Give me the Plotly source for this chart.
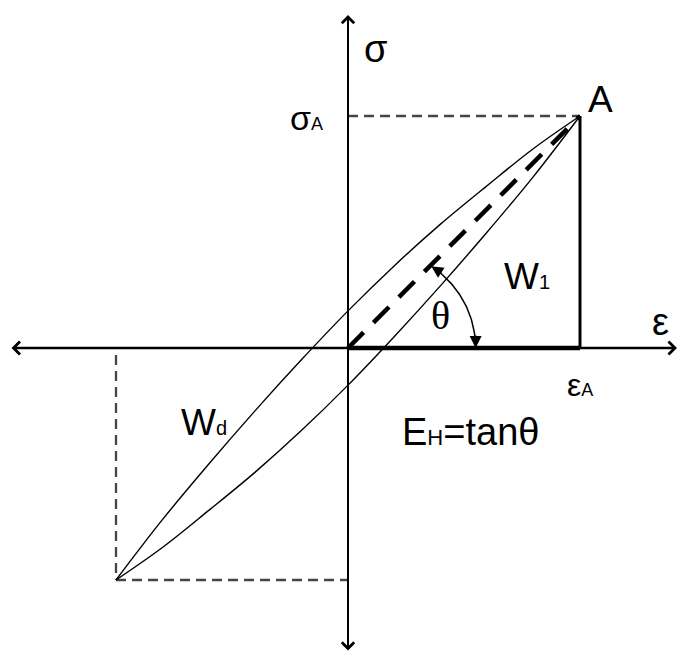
import numpy as np
import plotly.graph_objects as go

# normalised cycle amplitudes (strain and stress at the tip A)
eps_A = 1.0
sig_A = 1.0

# upper (loading) and lower (unloading) branches of the hysteresis loop
upper_eps = [-1.0, -0.8, -0.6, -0.4, -0.2, 0.0, 0.2, 0.4, 0.6, 0.8, 1.0]
upper_sig = [-1.0, -0.74, -0.50, -0.27, -0.05, 0.16, 0.355, 0.535, 0.70, 0.86, 1.0]
lower_eps = [-1.0, -0.8, -0.6, -0.4, -0.2, 0.0, 0.2, 0.4, 0.6, 0.8, 1.0]
lower_sig = [-1.0, -0.86, -0.70, -0.535, -0.355, -0.16, 0.05, 0.27, 0.50, 0.74, 1.0]

# visible extent of the strain / stress axes
x_min, x_max = -1.457, 1.418
y_min, y_max = -1.31, 1.435

FONT = "Liberation Sans, Arial, sans-serif"
SERIF = "Liberation Serif, Times New Roman, serif"
GREY = "#454545"

fig = go.Figure()


def seg(xs, ys, color="black", width=2, dash="solid", shape="linear"):
    fig.add_trace(go.Scatter(
        x=xs, y=ys, mode="lines", hoverinfo="skip", showlegend=False,
        line=dict(color=color, width=width, dash=dash, shape=shape),
    ))


# dashed projections of the two loop tips
seg([0, eps_A], [sig_A, sig_A], GREY, 2.3, "10px,6px")
seg([-eps_A, -eps_A], [-0.03, -sig_A], GREY, 2.3, "10px,6px")
seg([-eps_A, 0], [-sig_A, -sig_A], GREY, 2.3, "10px,6px")

# triangle for the elastic energy W1
seg([eps_A, eps_A], [sig_A, 0], "black", 3)
seg([0, eps_A], [0, 0], "black", 4.5)

# secant through the origin and A (slope = tan(theta))
seg([0, eps_A], [0, sig_A], "black", 4.5, "22px,14px")

# hysteresis loop
seg(upper_eps, upper_sig, "black", 1.4, shape="spline")
seg(lower_eps, lower_sig, "black", 1.4, shape="spline")

# axes with arrowheads
fig.add_annotation(x=x_max, y=0, ax=x_min, ay=0, xref="x", yref="y", axref="x", ayref="y",
                   text="", showarrow=True, arrowside="end+start", arrowhead=4, startarrowhead=4,
                   arrowwidth=2.5, arrowsize=1.0, startarrowsize=1.0, arrowcolor="black")
fig.add_annotation(x=0, y=y_max, ax=0, ay=y_min, xref="x", yref="y", axref="x", ayref="y",
                   text="", showarrow=True, arrowside="end+start", arrowhead=4, startarrowhead=4,
                   arrowwidth=2, arrowsize=1.2, startarrowsize=1.2, arrowcolor="black")

# angle mark theta between the strain axis and the secant
arc_cx, arc_r = 0.13, 0.42
phi_end = np.deg2rad(57)
phi = np.linspace(0.02, phi_end - 0.05, 60)
seg(arc_cx + arc_r * np.cos(phi), arc_r * np.sin(phi), "black", 1.5)

tip_lo = (arc_cx + arc_r, 0.0)
fig.add_annotation(x=tip_lo[0], y=tip_lo[1], ax=tip_lo[0], ay=0.06, xref="x", yref="y",
                   axref="x", ayref="y", text="", showarrow=True, arrowhead=2,
                   arrowwidth=1.5, arrowsize=1.6, arrowcolor="black")
tip_hi = (arc_cx + arc_r * np.cos(phi_end), arc_r * np.sin(phi_end))
tang = (-np.sin(phi_end), np.cos(phi_end))
fig.add_annotation(x=tip_hi[0], y=tip_hi[1], ax=tip_hi[0] - 0.06 * tang[0],
                   ay=tip_hi[1] - 0.06 * tang[1], xref="x", yref="y", axref="x", ayref="y",
                   text="", showarrow=True, arrowhead=2, arrowwidth=1.5, arrowsize=1.6,
                   arrowcolor="black")


def label(x, y, text, size, family=FONT, xanchor="center"):
    fig.add_annotation(x=x, y=y, xref="x", yref="y", text=text, showarrow=False,
                       xanchor=xanchor, yanchor="middle",
                       font=dict(family=family, size=size, color="black"))


label(0.12, 1.29, "σ", 38)
label(1.09, 1.07, "A", 37)
label(-0.10, 0.99, "σ<span style='font-size:18px'>A</span>", 34, xanchor="right")
label(1.345, 0.11, "ε", 38)
label(1.0, -0.16, "ε<span style='font-size:18px'>A</span>", 32)
label(0.77, 0.31, "W<span style='font-size:20px'>1</span>", 37)
label(-0.62, -0.32, "W<span style='font-size:20px'>d</span>", 37)
label(0.397, 0.14, "θ", 40, family=SERIF)
label(0.526, -0.36, "E<span style='font-size:22px'>H</span>=tanθ", 38)

fig.update_layout(
    width=678, height=655,
    margin=dict(l=0, r=0, t=0, b=0, pad=0),
    paper_bgcolor="white", plot_bgcolor="white",
    xaxis=dict(range=[-1.5, 330 / 232], visible=False, fixedrange=True),
    yaxis=dict(range=[-307 / 232, 1.5], visible=False, fixedrange=True),
)

fig.write_html("out.html")
